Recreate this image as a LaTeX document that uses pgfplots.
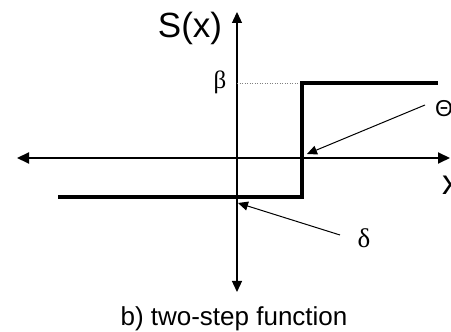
\documentclass[border=0pt]{standalone}
\usepackage{pgfplots}
\pgfplotsset{compat=1.18}
\usepackage{fontspec}
\setmainfont{Liberation Sans}
\newfontfamily\seriffont{Liberation Serif}
\usetikzlibrary{arrows.meta}

\begin{document}
\begin{tikzpicture}
\begin{axis}[
    scale only axis,
    width=451pt, height=332pt,
    xmin=-237, xmax=214,
    ymin=-174, ymax=158,
    hide axis,
    clip=false,
]
% axes
\draw[line width=2pt, {Triangle[length=12pt,width=11pt]}-{Triangle[length=12pt,width=11pt]}]
    (axis cs:-220,0) -- (axis cs:213,0);
\draw[line width=1.3pt, {Triangle[length=11pt,width=10pt]}-{Triangle[length=11pt,width=10pt]}]
    (axis cs:0,-134) -- (axis cs:0,146);
% dotted guide at beta
\draw[gray, line width=0.6pt, dash pattern=on 1pt off 1.5pt] (axis cs:0,75) -- (axis cs:65,75);
% two-step function
\addplot[black, line width=4.5pt, line join=miter, mark=none]
    coordinates {(-179,-39) (65,-39) (65,75) (201,75)};
% annotation arrows
\draw[line width=1pt, -{Triangle[length=10pt,width=9pt]}] (axis cs:188,53) -- (axis cs:70,4);
\draw[line width=1pt, -{Triangle[length=10pt,width=9pt]}] (axis cs:103,-77) -- (axis cs:1,-45);
% labels
\node[font=\fontsize{35}{40}\selectfont] at (axis cs:-47,130) {S(x)};
\node[font=\seriffont\fontsize{25}{28}\selectfont] at (axis cs:-17,76) {β};
\node[anchor=west, inner sep=0pt, font=\fontsize{23}{26}\selectfont] at (axis cs:198,49) {Θ};
\node[font=\seriffont\fontsize{27}{30}\selectfont] at (axis cs:127,-80) {δ};
\node[anchor=base west, inner sep=0pt, font=\fontsize{35}{40}\selectfont] at (axis cs:205,-37) {x};
\node[anchor=base, inner sep=0pt, font=\fontsize{26}{30}\selectfont] at (axis cs:-3,-168) {b) two-step function};
\end{axis}
\pgfresetboundingbox
\useasboundingbox (current axis.south west) rectangle (current axis.north east);
\end{tikzpicture}
\end{document}
